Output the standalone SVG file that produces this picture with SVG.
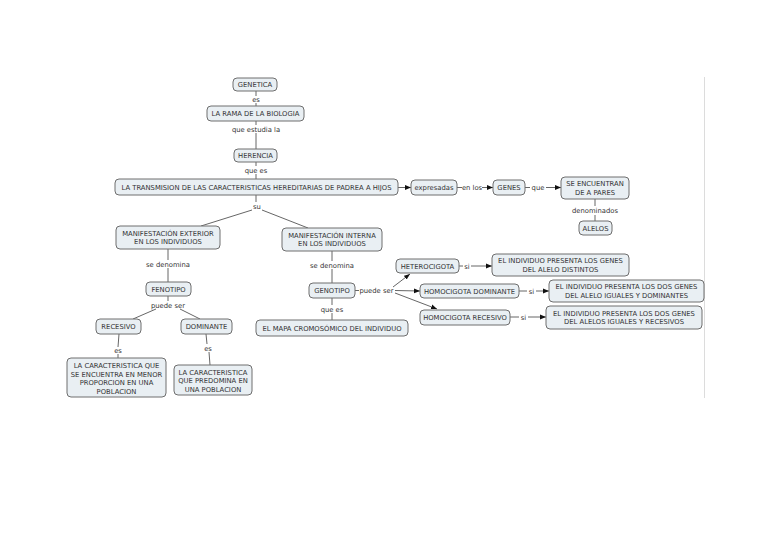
<svg xmlns="http://www.w3.org/2000/svg" width="768" height="543" viewBox="0 0 768 543">
<defs>
<marker id="ah" viewBox="0 0 10 10" refX="10" refY="5" markerWidth="6" markerHeight="6" markerUnits="userSpaceOnUse" orient="auto">
<path d="M0,1 L10,5 L0,9 z" fill="#111"/>
</marker>
</defs>
<style>
.box{fill:#e9eff3;stroke:#6e6e6e;stroke-width:1}
.t{font-family:"DejaVu Sans",Verdana,sans-serif;font-size:6.8px;fill:#333;text-anchor:middle}
.l{font-family:"DejaVu Sans",Verdana,sans-serif;font-size:6.8px;fill:#333;text-anchor:middle}
.c{stroke:#555;stroke-width:0.9;fill:none}
.a{stroke:#555;stroke-width:0.9;fill:none;marker-end:url(#ah)}
</style>
<rect width="768" height="543" fill="#fff"/>
<line x1="704.5" y1="77" x2="704.5" y2="398" stroke="#dcdcdc" stroke-width="1"/>

<g id="connectors">
<line class="c" x1="256" y1="91" x2="256" y2="96"/>
<line class="c" x1="256" y1="103" x2="256" y2="106"/>
<line class="c" x1="256" y1="121" x2="256" y2="125"/>
<line class="c" x1="256" y1="133" x2="256" y2="149"/>
<line class="c" x1="256" y1="162" x2="256" y2="166"/>
<line class="c" x1="256" y1="174" x2="256" y2="179"/>
<line class="c" x1="256" y1="195" x2="256" y2="202"/>
<line class="c" x1="252" y1="210" x2="201" y2="226"/>
<line class="c" x1="262" y1="210" x2="308" y2="228"/>
<line class="a" x1="398" y1="187.5" x2="411" y2="187.5"/>
<line class="c" x1="457" y1="187.5" x2="462" y2="187.5"/>
<line class="a" x1="482" y1="187.5" x2="493" y2="187.5"/>
<line class="c" x1="525" y1="187.5" x2="530" y2="187.5"/>
<line class="a" x1="546" y1="187.5" x2="561" y2="187.5"/>
<line class="c" x1="595" y1="199" x2="595" y2="206"/>
<line class="c" x1="595" y1="215" x2="595" y2="221"/>
<line class="c" x1="168" y1="249" x2="168" y2="260"/>
<line class="c" x1="168" y1="268" x2="168" y2="282"/>
<line class="c" x1="168" y1="296" x2="168" y2="301"/>
<line class="c" x1="156" y1="309" x2="133" y2="319"/>
<line class="c" x1="180" y1="309" x2="200" y2="319"/>
<line class="c" x1="119" y1="334" x2="118" y2="347"/>
<line class="c" x1="118" y1="354" x2="118" y2="358"/>
<line class="c" x1="206" y1="334" x2="207" y2="344"/>
<line class="c" x1="209" y1="352" x2="210" y2="365"/>
<line class="c" x1="332" y1="251" x2="332" y2="261"/>
<line class="c" x1="332" y1="269" x2="332" y2="283"/>
<line class="c" x1="332" y1="298" x2="332" y2="305"/>
<line class="c" x1="332" y1="313" x2="332" y2="320"/>
<line class="c" x1="355" y1="290.5" x2="359" y2="290.5"/>
<line class="a" x1="393" y1="287" x2="410" y2="274"/>
<line class="a" x1="395" y1="290.5" x2="420" y2="291"/>
<line class="a" x1="395" y1="293" x2="437" y2="309"/>
<line class="c" x1="459" y1="266" x2="463" y2="266"/>
<line class="a" x1="471" y1="266" x2="492" y2="266"/>
<line class="c" x1="519" y1="291" x2="527" y2="291"/>
<line class="a" x1="536" y1="291" x2="549" y2="291"/>
<line class="c" x1="510" y1="317" x2="519" y2="317"/>
<line class="a" x1="528" y1="317" x2="546" y2="317"/>
</g>

<g id="labels">
<text class="l" x="256" y="102">es</text>
<text class="l" x="256" y="131.5">que estudia la</text>
<text class="l" x="256" y="172.5">que es</text>
<text class="l" x="257" y="208.5">su</text>
<text class="l" x="472" y="190">en los</text>
<text class="l" x="538" y="189.5">que</text>
<text class="l" x="595" y="213">denominados</text>
<text class="l" x="168" y="266.5">se denomina</text>
<text class="l" x="168" y="307.5">puede ser</text>
<text class="l" x="118" y="353">es</text>
<text class="l" x="208" y="350.5">es</text>
<text class="l" x="332" y="267.5">se denomina</text>
<text class="l" x="332" y="311.5">que es</text>
<text class="l" x="376.5" y="292.5">puede ser</text>
<text class="l" x="467" y="268.5">si</text>
<text class="l" x="531.5" y="293.5">si</text>
<text class="l" x="523.5" y="319.5">si</text>
</g>

<g id="n_genetica"><rect class="box" x="233" y="78" width="44" height="13" rx="4"/><text class="t" x="255" y="87">GENETICA</text></g>
<g id="n_rama"><rect class="box" x="207" y="106" width="97" height="15" rx="4"/><text class="t" x="255.5" y="116">LA RAMA DE LA BIOLOGIA</text></g>
<g id="n_herencia"><rect class="box" x="234" y="149" width="43" height="13" rx="4"/><text class="t" x="255.5" y="158">HERENCIA</text></g>
<g id="n_transmision"><rect class="box" x="115" y="179" width="283" height="16" rx="4"/><text class="t" x="256.5" y="189.5">LA TRANSMISION DE LAS CARACTERISTICAS HEREDITARIAS DE PADREA A HIJOS</text></g>
<g id="n_expresadas"><rect class="box" x="411" y="180" width="46" height="15" rx="4"/><text class="t" x="434" y="190">expresadas</text></g>
<g id="n_genes"><rect class="box" x="493" y="180" width="32" height="15" rx="4"/><text class="t" x="509" y="190">GENES</text></g>
<g id="n_pares"><rect class="box" x="561" y="177" width="68" height="22" rx="4"/><text class="t" x="595" y="186">SE ENCUENTRAN</text><text class="t" x="595" y="194.5">DE A PARES</text></g>
<g id="n_alelos"><rect class="box" x="579" y="221" width="33" height="14" rx="4"/><text class="t" x="595.5" y="230.5">ALELOS</text></g>
<g id="n_exterior"><rect class="box" x="116" y="226" width="104" height="23" rx="4"/><text class="t" x="168" y="235.5">MANIFESTACIÓN EXTERIOR</text><text class="t" x="168" y="244">EN LOS INDIVIDUOS</text></g>
<g id="n_interna"><rect class="box" x="282" y="228" width="100" height="23" rx="4"/><text class="t" x="332" y="237.5">MANIFESTACIÓN INTERNA</text><text class="t" x="332" y="246">EN LOS INDIVIDUOS</text></g>
<g id="n_fenotipo"><rect class="box" x="146" y="282" width="45" height="14" rx="4"/><text class="t" x="168.5" y="291.5">FENOTIPO</text></g>
<g id="n_genotipo"><rect class="box" x="309" y="283" width="46" height="15" rx="4"/><text class="t" x="332" y="293">GENOTIPO</text></g>
<g id="n_recesivo"><rect class="box" x="96" y="319" width="45" height="15" rx="4"/><text class="t" x="118.5" y="329">RECESIVO</text></g>
<g id="n_dominante"><rect class="box" x="181" y="319" width="51" height="15" rx="4"/><text class="t" x="206.5" y="329">DOMINANTE</text></g>
<g id="n_car1"><rect class="box" x="67" y="358" width="99" height="39" rx="4"/><text class="t" x="116.5" y="368">LA CARACTERISTICA QUE</text><text class="t" x="116.5" y="376.5">SE ENCUENTRA EN MENOR</text><text class="t" x="116.5" y="385">PROPORCION EN UNA</text><text class="t" x="116.5" y="393.5">POBLACION</text></g>
<g id="n_car2"><rect class="box" x="174" y="365" width="78" height="30" rx="4"/><text class="t" x="213" y="374.5">LA CARACTERISTICA</text><text class="t" x="213" y="383">QUE PREDOMINA EN</text><text class="t" x="213" y="391.5">UNA POBLACION</text></g>
<g id="n_mapa"><rect class="box" x="256" y="320" width="152" height="16" rx="4"/><text class="t" x="332" y="330.5">EL MAPA CROMOSÓMICO  DEL INDIVIDUO</text></g>
<g id="n_hetero"><rect class="box" x="396" y="259" width="63" height="14" rx="4"/><text class="t" x="427.5" y="268.5">HETEROCIGOTA</text></g>
<g id="n_homdom"><rect class="box" x="420" y="284" width="99" height="14" rx="4"/><text class="t" x="469.5" y="293.5">HOMOCIGOTA DOMINANTE</text></g>
<g id="n_homrec"><rect class="box" x="420" y="310" width="90" height="15" rx="4"/><text class="t" x="465" y="320">HOMOCIGOTA RECESIVO</text></g>
<g id="n_ind1"><rect class="box" x="492" y="254" width="137" height="22" rx="4"/><text class="t" x="560.5" y="263">EL INDIVIDUO PRESENTA LOS GENES</text><text class="t" x="560.5" y="271.5">DEL ALELO DISTINTOS</text></g>
<g id="n_ind2"><rect class="box" x="549" y="280" width="155" height="22" rx="4"/><text class="t" x="626.5" y="289">EL INDIVIDUO PRESENTA LOS DOS GENES</text><text class="t" x="626.5" y="297.5">DEL ALELO IGUALES Y DOMINANTES</text></g>
<g id="n_ind3"><rect class="box" x="546" y="306" width="156" height="23" rx="4"/><text class="t" x="624" y="315.5">EL INDIVIDUO PRESENTA LOS DOS GENES</text><text class="t" x="624" y="324">DEL ALELOS IGUALES Y RECESIVOS</text></g>
</svg>
